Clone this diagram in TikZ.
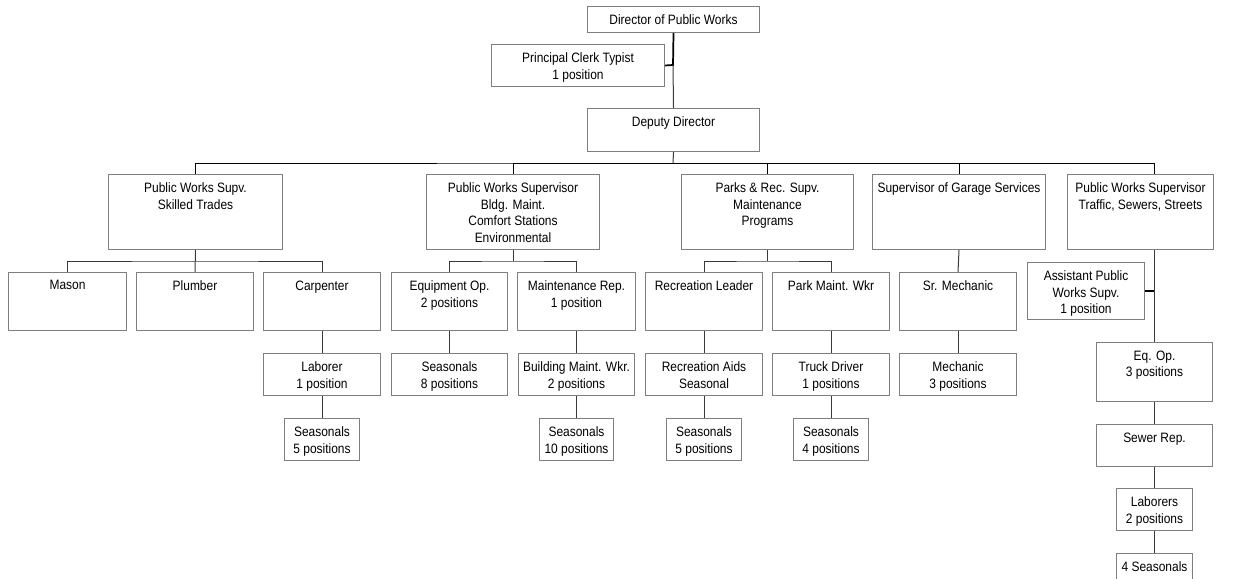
\documentclass[tikz,border=0pt]{standalone}
\usepackage{fontspec}
\setmainfont{Liberation Sans}[FakeStretch=0.88]
\usepackage{tikz}
\usetikzlibrary{positioning,calc}
\definecolor{boxgray}{HTML}{7F7F7F}
\definecolor{wiregray}{HTML}{3A3A3A}
\newdimen\pxu \pxu=0.75pt
\newcommand{\orgbox}[5]{
  \node[orgbox] (#1) at #2 {\parbox[c][#4\pxu][t]{#3\pxu}{\centering\vspace{8\pxu}#5}};
}

\begin{document}
\begin{tikzpicture}[x=\pxu,y=-\pxu,
  orgbox/.style={draw=boxgray,line width=0.75pt,inner sep=0pt,anchor=north west,
    font=\fontsize{10.2}{12.5}\selectfont},
  link/.style={draw=wiregray,line width=0.75pt},
  trunk/.style={draw=black,line width=1.3pt}]
  \useasboundingbox (0,0) rectangle (1244,578);
  \clip (0,0) rectangle (1244,578);
  % top
  \orgbox{dir}{(587,6)}{172}{26}{Director of Public Works}
  \orgbox{clerk}{(491,44)}{173}{42}{Principal Clerk Typist\\1 position}
  \orgbox{dep}{(587,108)}{172}{43}{Deputy Director}
  % supervisors
  \orgbox{sa}{(108,174)}{174}{75}{Public Works Supv.\\Skilled Trades}
  \orgbox{sb}{(426,174)}{173}{75}{Public Works Supervisor\\Bldg. Maint.\\Comfort Stations\\Environmental}
  \orgbox{sc}{(681,174)}{172}{75}{Parks \& Rec. Supv.\\Maintenance\\Programs}
  \orgbox{sd}{(872,174)}{173}{75}{Supervisor of Garage Services}
  \orgbox{se}{(1067,174)}{146}{75}{Public Works Supervisor\\Traffic, Sewers, Streets}
  % trades
  \orgbox{mason}{(8,272)}{118}{58}{Mason}
  \orgbox{plumber}{(136,272)}{117}{58}{Plumber}
  \orgbox{carp}{(263,272)}{117}{58}{Carpenter}
  \orgbox{eqop}{(391,272)}{116}{58}{Equipment Op.\\2 positions}
  \orgbox{mrep}{(517,272)}{118}{58}{Maintenance Rep.\\1 position}
  \orgbox{rlead}{(645,272)}{117}{58}{Recreation Leader}
  \orgbox{pmw}{(772,272)}{117}{58}{Park Maint. Wkr}
  \orgbox{srm}{(899,272)}{117}{58}{Sr. Mechanic}
  \orgbox{asst}{(1027,262)}{117}{57}{Assistant Public\\Works Supv.\\1 position}
  % fourth row
  \orgbox{lab}{(263,353)}{117}{42}{Laborer\\1 position}
  \orgbox{seas8}{(391,353)}{116}{42}{Seasonals\\8 positions}
  \orgbox{bmw}{(518,353)}{116}{42}{Building Maint. Wkr.\\2 positions}
  \orgbox{raid}{(645,353)}{117}{42}{Recreation Aids\\Seasonal}
  \orgbox{truck}{(772,353)}{117}{42}{Truck Driver\\1 positions}
  \orgbox{mech}{(899,353)}{117}{42}{Mechanic\\3 positions}
  % seasonals
  \orgbox{s5a}{(284,418)}{75}{42}{Seasonals\\5 positions}
  \orgbox{s10}{(539,418)}{74}{42}{Seasonals\\10 positions}
  \orgbox{s5b}{(666,418)}{75}{42}{Seasonals\\5 positions}
  \orgbox{s4}{(793,418)}{75}{42}{Seasonals\\4 positions}
  % traffic column
  \orgbox{eq}{(1096,342)}{116}{59}{Eq. Op.\\3 positions}
  \orgbox{sewer}{(1096,424)}{116}{42}{Sewer Rep.}
  \orgbox{labs}{(1116,488)}{76}{42}{Laborers\\2 positions}
  \orgbox{four}{(1116,553)}{76}{40}{4 Seasonals}

  \coordinate (cj) at (673,65);
  \coordinate (bus) at (673,163);
  \draw[trunk] (dir.south) -- (cj) -- (clerk.east);
  \draw[link] (cj) -- (dep.north);
  \draw[link] (dep.south) -- (bus);
  \draw[link,draw=black] (sa.north) |- (bus) -| ($(se.north)+(14,0)$);
  \draw[link,draw=black] (bus) -| (sb.north);
  \draw[link,draw=black] (bus) -| (sc.north);
  \draw[link,draw=black] (bus) -| (sd.north);
  % sub buses
  \draw[link] (mason.north) |- ($(sa.south)+(0,11)$) -| (carp.north);
  \draw[link] (sa.south) -- (plumber.north);
  \draw[link] (eqop.north) |- ($(sb.south)+(0,11)$) -| (mrep.north);
  \draw[link] (sb.south) -- ++(0,11);
  \draw[link] (rlead.north) |- ($(sc.south)+(0,11)$) -| (pmw.north);
  \draw[link] (sc.south) -- ++(0,11);
  \draw[link] (sd.south) -- (srm.north);
  \draw[trunk] ($(se.south)+(14,0)$) |- (asst.east);
  \draw[link] ($(se.south)+(14,0)$) -- (eq.north);
  \foreach \a/\b in {carp/lab,lab/s5a,eqop/seas8,mrep/bmw,bmw/s10,rlead/raid,raid/s5b,
    pmw/truck,truck/s4,srm/mech,eq/sewer,sewer/labs,labs/four}
    \draw[link] (\a.south) -- (\b.north);
\end{tikzpicture}
\end{document}
